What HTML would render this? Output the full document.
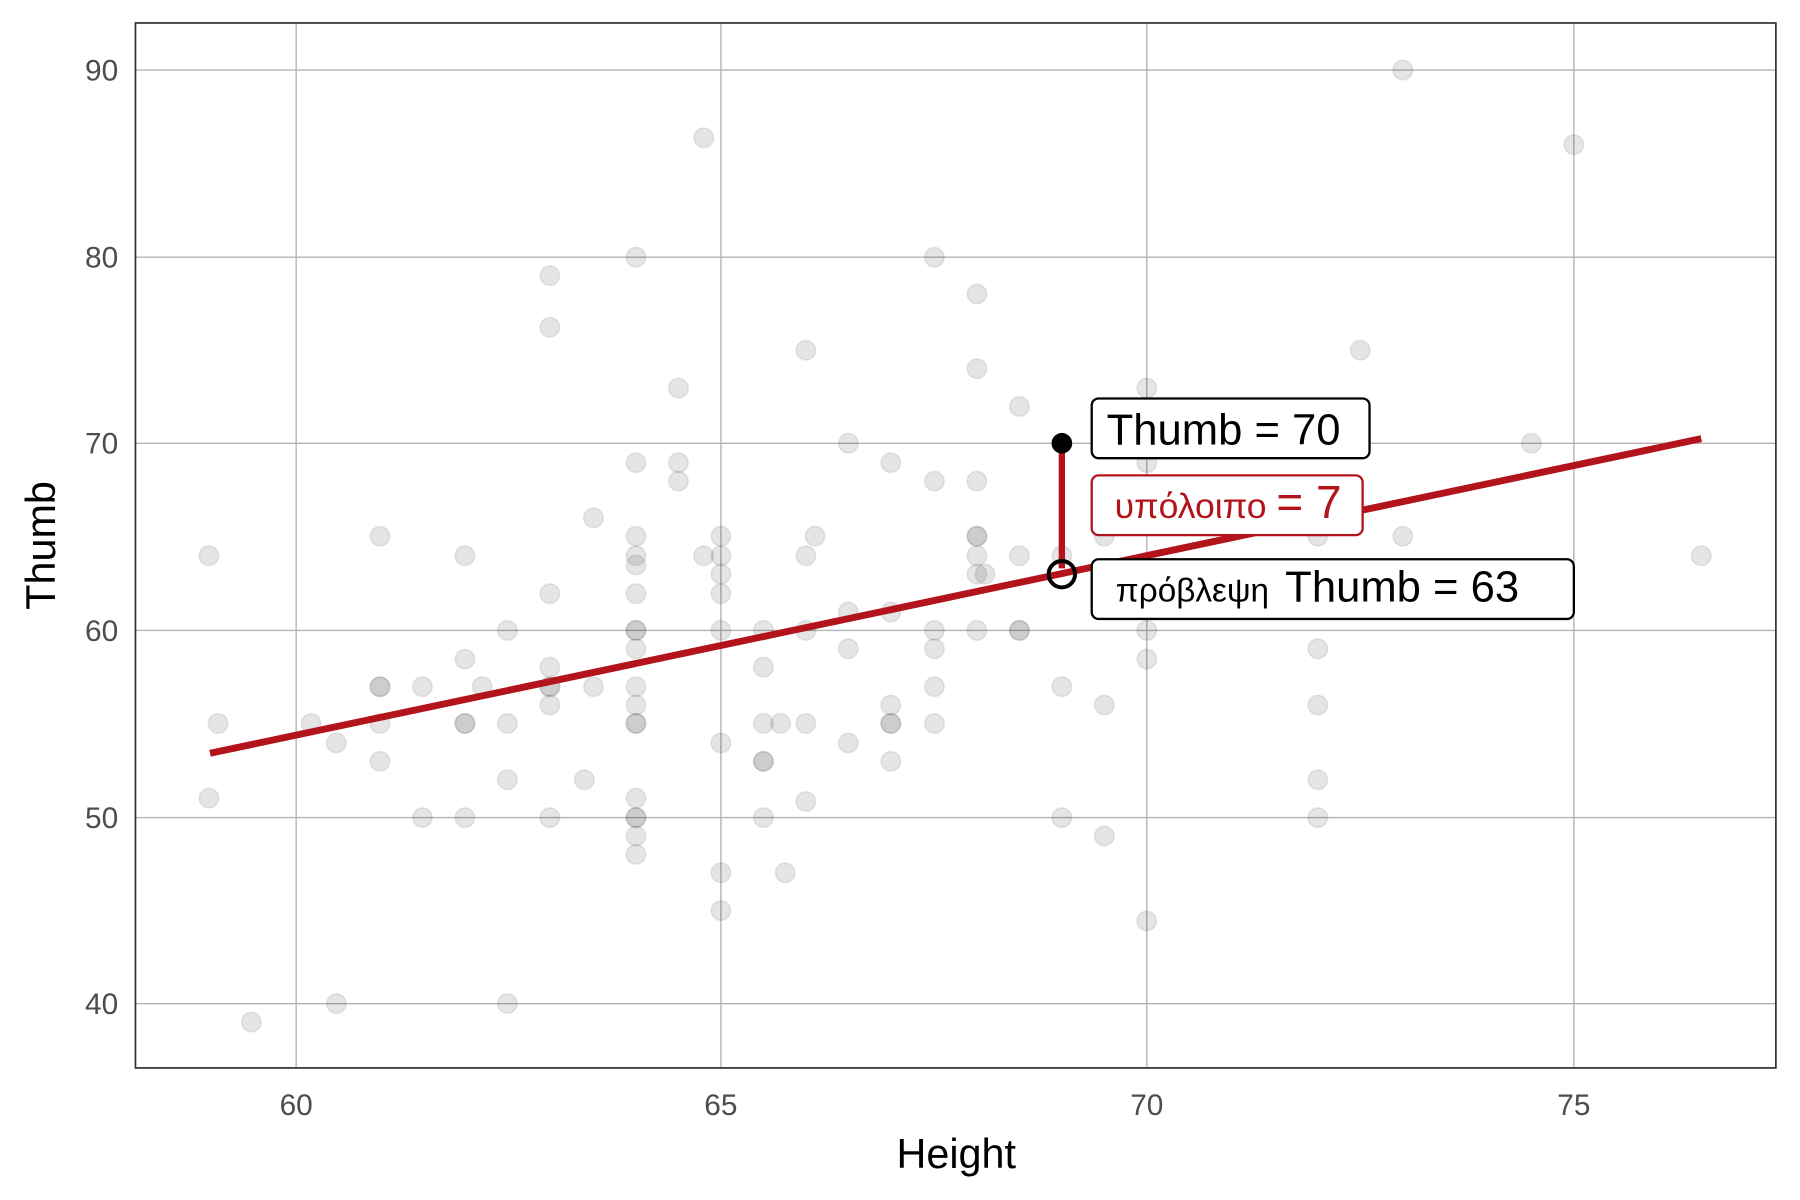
<!DOCTYPE html><html><head><style>html,body{margin:0;padding:0;background:#fff}svg{display:block}</style></head><body>
<svg width="1800" height="1200" viewBox="0 0 1568 1045" preserveAspectRatio="none" xmlns="http://www.w3.org/2000/svg" font-family="Liberation Sans, sans-serif">
<rect width="1568" height="1045" fill="#fff"/>
<g stroke="#b3b3b3" stroke-width="1.2">
<line x1="258" y1="20" x2="258" y2="930"/><line x1="628" y1="20" x2="628" y2="930"/><line x1="999" y1="20" x2="999" y2="930"/><line x1="1371" y1="20" x2="1371" y2="930"/>
<line x1="118" y1="61" x2="1547" y2="61"/><line x1="118" y1="224" x2="1547" y2="224"/><line x1="118" y1="386" x2="1547" y2="386"/><line x1="118" y1="549" x2="1547" y2="549"/><line x1="118" y1="712" x2="1547" y2="712"/><line x1="118" y1="874" x2="1547" y2="874"/>
</g>
<g fill="rgba(0,0,0,0.1)" stroke="rgba(0,0,0,0.08)" stroke-width="1.5">
<circle cx="182" cy="484" r="8.5"/><circle cx="190" cy="630" r="8.5"/><circle cx="182" cy="695" r="8.5"/><circle cx="219" cy="890" r="8.5"/><circle cx="271" cy="630" r="8.5"/><circle cx="293" cy="647" r="8.5"/><circle cx="293" cy="874" r="8.5"/><circle cx="331" cy="467" r="8.5"/><circle cx="331" cy="598" r="8.5"/><circle cx="331" cy="630" r="8.5"/><circle cx="331" cy="663" r="8.5"/><circle cx="368" cy="598" r="8.5"/><circle cx="368" cy="712" r="8.5"/><circle cx="405" cy="484" r="8.5"/><circle cx="405" cy="574" r="8.5"/><circle cx="405" cy="630" r="8.5"/><circle cx="405" cy="712" r="8.5"/><circle cx="420" cy="598" r="8.5"/><circle cx="442" cy="549" r="8.5"/><circle cx="442" cy="630" r="8.5"/><circle cx="442" cy="679" r="8.5"/><circle cx="442" cy="874" r="8.5"/><circle cx="479" cy="240" r="8.5"/><circle cx="479" cy="285" r="8.5"/><circle cx="479" cy="517" r="8.5"/><circle cx="479" cy="581" r="8.5"/><circle cx="479" cy="598" r="8.5"/><circle cx="479" cy="614" r="8.5"/><circle cx="479" cy="712" r="8.5"/><circle cx="509" cy="679" r="8.5"/><circle cx="517" cy="451" r="8.5"/><circle cx="517" cy="598" r="8.5"/><circle cx="554" cy="224" r="8.5"/><circle cx="554" cy="403" r="8.5"/><circle cx="554" cy="467" r="8.5"/><circle cx="554" cy="484" r="8.5"/><circle cx="554" cy="492" r="8.5"/><circle cx="554" cy="517" r="8.5"/><circle cx="554" cy="549" r="8.5"/><circle cx="554" cy="565" r="8.5"/><circle cx="554" cy="598" r="8.5"/><circle cx="554" cy="614" r="8.5"/><circle cx="554" cy="630" r="8.5"/><circle cx="554" cy="695" r="8.5"/><circle cx="554" cy="712" r="8.5"/><circle cx="554" cy="728" r="8.5"/><circle cx="554" cy="744" r="8.5"/><circle cx="591" cy="338" r="8.5"/><circle cx="591" cy="403" r="8.5"/><circle cx="591" cy="419" r="8.5"/><circle cx="613" cy="120" r="8.5"/><circle cx="613" cy="484" r="8.5"/><circle cx="628" cy="467" r="8.5"/><circle cx="628" cy="484" r="8.5"/><circle cx="628" cy="500" r="8.5"/><circle cx="628" cy="517" r="8.5"/><circle cx="628" cy="549" r="8.5"/><circle cx="628" cy="647" r="8.5"/><circle cx="628" cy="760" r="8.5"/><circle cx="628" cy="793" r="8.5"/><circle cx="665" cy="549" r="8.5"/><circle cx="665" cy="581" r="8.5"/><circle cx="665" cy="630" r="8.5"/><circle cx="665" cy="663" r="8.5"/><circle cx="665" cy="712" r="8.5"/><circle cx="680" cy="630" r="8.5"/><circle cx="684" cy="760" r="8.5"/><circle cx="702" cy="305" r="8.5"/><circle cx="702" cy="484" r="8.5"/><circle cx="702" cy="549" r="8.5"/><circle cx="702" cy="630" r="8.5"/><circle cx="702" cy="698" r="8.5"/><circle cx="710" cy="467" r="8.5"/><circle cx="739" cy="386" r="8.5"/><circle cx="739" cy="533" r="8.5"/><circle cx="739" cy="565" r="8.5"/><circle cx="739" cy="647" r="8.5"/><circle cx="776" cy="403" r="8.5"/><circle cx="776" cy="533" r="8.5"/><circle cx="776" cy="614" r="8.5"/><circle cx="776" cy="630" r="8.5"/><circle cx="776" cy="663" r="8.5"/><circle cx="814" cy="224" r="8.5"/><circle cx="814" cy="419" r="8.5"/><circle cx="814" cy="549" r="8.5"/><circle cx="814" cy="565" r="8.5"/><circle cx="814" cy="598" r="8.5"/><circle cx="814" cy="630" r="8.5"/><circle cx="851" cy="256" r="8.5"/><circle cx="851" cy="321" r="8.5"/><circle cx="851" cy="419" r="8.5"/><circle cx="851" cy="467" r="8.5"/><circle cx="851" cy="484" r="8.5"/><circle cx="851" cy="500" r="8.5"/><circle cx="851" cy="549" r="8.5"/><circle cx="858" cy="500" r="8.5"/><circle cx="888" cy="354" r="8.5"/><circle cx="888" cy="484" r="8.5"/><circle cx="888" cy="549" r="8.5"/><circle cx="925" cy="484" r="8.5"/><circle cx="925" cy="598" r="8.5"/><circle cx="925" cy="712" r="8.5"/><circle cx="962" cy="614" r="8.5"/><circle cx="962" cy="728" r="8.5"/><circle cx="962" cy="467" r="8.5"/><circle cx="999" cy="338" r="8.5"/><circle cx="999" cy="403" r="8.5"/><circle cx="999" cy="549" r="8.5"/><circle cx="999" cy="574" r="8.5"/><circle cx="999" cy="802" r="8.5"/><circle cx="1148" cy="467" r="8.5"/><circle cx="1148" cy="565" r="8.5"/><circle cx="1148" cy="614" r="8.5"/><circle cx="1148" cy="679" r="8.5"/><circle cx="1148" cy="712" r="8.5"/><circle cx="1185" cy="305" r="8.5"/><circle cx="1222" cy="61" r="8.5"/><circle cx="1222" cy="467" r="8.5"/><circle cx="1334" cy="386" r="8.5"/><circle cx="1371" cy="126" r="8.5"/><circle cx="1482" cy="484" r="8.5"/>
<circle cx="554" cy="630" r="8.5"/><circle cx="405" cy="630" r="8.5"/><circle cx="665" cy="663" r="8.5"/><circle cx="851" cy="467" r="8.5"/><circle cx="888" cy="549" r="8.5"/><circle cx="554" cy="712" r="8.5"/><circle cx="554" cy="549" r="8.5"/><circle cx="776" cy="630" r="8.5"/><circle cx="331" cy="598" r="8.5"/><circle cx="479" cy="598" r="8.5"/>
</g>
<line x1="183" y1="656" x2="1482" y2="382" stroke="#B3131B" stroke-width="6"/>
<line x1="925" y1="388" x2="925" y2="495" stroke="#B3131B" stroke-width="5.5"/>
<circle cx="925" cy="386" r="9" fill="#000"/>
<circle cx="925" cy="500" r="11.5" fill="none" stroke="#000" stroke-width="3.5"/>
<rect x="951" y="347" width="242" height="52" rx="6" fill="#fff" stroke="#000" stroke-width="2"/>
<text x="964" y="387" font-size="38">Thumb = 70</text>
<rect x="951" y="414" width="236" height="52" rx="6" fill="#fff" stroke="#B3131B" stroke-width="2"/>
<text x="971" y="451" font-size="31" fill="#B3131B">υπόλοιπο <tspan font-size="40">= 7</tspan></text>
<rect x="951" y="487" width="420" height="52" rx="6" fill="#fff" stroke="#000" stroke-width="2"/>
<text x="972" y="524" font-size="29">πρόβλεψη <tspan font-size="38" dx="6">Thumb = 63</tspan></text>
<rect x="118" y="20" width="1429" height="910" fill="none" stroke="#333" stroke-width="1.5"/>
<g font-size="26" fill="#4d4d4d" text-anchor="end">
<text x="103" y="70">90</text><text x="103" y="233">80</text><text x="103" y="395">70</text><text x="103" y="558">60</text><text x="103" y="721">50</text><text x="103" y="883">40</text>
</g>
<g font-size="26" fill="#4d4d4d" text-anchor="middle">
<text x="258" y="971">60</text><text x="628" y="971">65</text><text x="999" y="971">70</text><text x="1371" y="971">75</text>
</g>
<text x="833" y="1017" font-size="36" text-anchor="middle">Height</text>
<text transform="translate(48,475) rotate(-90)" font-size="36" text-anchor="middle">Thumb</text>
</svg>
</body></html>
